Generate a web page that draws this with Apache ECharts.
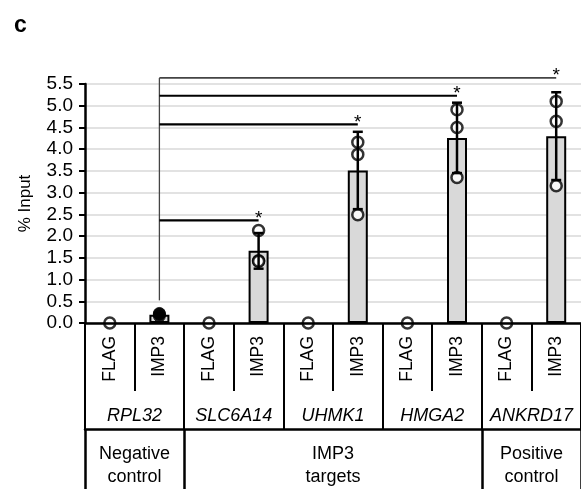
<!DOCTYPE html>
<html>
<head>
<meta charset="utf-8">
<script src="https://cdn.jsdelivr.net/npm/echarts@6/dist/echarts.min.js"></script>
<style>
html,body{margin:0;padding:0;background:#fff;}
#chart{width:581px;height:489px;}
</style>
</head>
<body>
<div id="chart"></div>
<script>
// ---- data ----
const conditions = ['FLAG', 'IMP3'];
const genes = ['RPL32', 'SLC6A14', 'UHMK1', 'HMGA2', 'ANKRD17'];
const groupNames = ['Negative\ncontrol', 'IMP3\ntargets', 'Positive\ncontrol'];
const groupStart = [0, 1, 4];
const groupEnd = [0, 3, 4];
const flagValues = [0, 0, 0, 0, 0];
const imp3Means = [0.19, 1.66, 3.51, 4.26, 4.30];
const imp3SD = [0.03, 0.41, 0.89, 0.81, 1.01];
const imp3Points = [
  [0.22, 0.20, 0.16],
  [2.13, 1.43, 1.42],
  [4.16, 3.88, 2.49],
  [4.91, 4.50, 3.35],
  [5.10, 4.64, 3.16]
];
const bracketRef = 'RPL32';
const bracketTargets = ['SLC6A14', 'UHMK1', 'HMGA2', 'ANKRD17'];
const bracketHeights = [2.36, 4.57, 5.23, 5.64];
const bracketLabels = ['*', '*', '*', '*'];
const bracketBase = 0.52;
const yMin = 0, yMax = 5.5, yStep = 0.5;

// ---- derived ----
const categories = [];
genes.forEach(() => conditions.forEach(c => categories.push(c)));
const idx = (g, c) => g * conditions.length + c;

const barData = categories.map(() => '-');
imp3Means.forEach((v, g) => { barData[idx(g, 1)] = v; });

const flagScatter = flagValues.map((v, g) => [idx(g, 0), v]);
const imp3Scatter = [];
const imp3ScatterFilled = [];
imp3Points.forEach((pts, g) => pts.forEach(v => {
  (g === 0 ? imp3ScatterFilled : imp3Scatter).push([idx(g, 1), v]);
}));
const errData = imp3Means.map((m, g) => [idx(g, 1), m - imp3SD[g], m + imp3SD[g]]);
const refIdx = idx(genes.indexOf(bracketRef), 1);
const bracketData = bracketTargets.map((t, i) => [refIdx, idx(genes.indexOf(t), 1), bracketHeights[i], i === bracketTargets.length - 1 ? 1 : 0]);
const stemData = [[refIdx, bracketBase, Math.max.apply(null, bracketHeights)]];

const FONT = 'Liberation Sans, Arial, Helvetica, sans-serif';
const chart = echarts.init(document.getElementById('chart'), null, {renderer: 'canvas'});

const gridCfg = {left: 85, top: 84, width: 500, height: 241, containLabel: false};

chart.setOption({
  animation: false,
  backgroundColor: '#fff',
  textStyle: {fontFamily: FONT, color: '#000'},
  graphic: [{
    type: 'text', left: 14, top: 14,
    style: {text: 'c', font: 'bold 23px ' + FONT, fill: '#000'}
  }],
  grid: gridCfg,
  xAxis: [
    {
      type: 'category', data: categories, position: 'bottom', boundaryGap: true,
      axisLine: {show: true, lineStyle: {color: '#000', width: 2.5}},
      axisTick: {show: true, interval: 0, length: 68, lineStyle: {color: '#000', width: 2}},
      axisLabel: {interval: 0, rotate: 90, margin: 13, fontSize: 17.5, color: '#000', fontFamily: FONT},
      splitLine: {show: false}, z: 1
    },
    {
      type: 'category', data: genes, position: 'bottom', offset: 0, boundaryGap: true,
      axisLine: {show: false},
      axisTick: {show: true, interval: 0, length: 106, lineStyle: {color: '#000', width: 2}},
      axisLabel: {interval: 0, margin: 84, fontSize: 18, fontStyle: 'italic', color: '#000', fontFamily: FONT},
      splitLine: {show: false}
    },
    {
      type: 'category', data: genes, position: 'bottom', offset: 106, boundaryGap: true,
      axisLine: {show: true, lineStyle: {color: '#000', width: 2.5}},
      axisTick: {show: true, length: 62, lineStyle: {color: '#000', width: 2.5},
        interval: function (i) { return groupStart.indexOf(i) >= 0; }},
      axisLabel: {
        margin: 14, fontSize: 18, lineHeight: 23, color: '#000', fontFamily: FONT,
        interval: function (i) { return groupStart.some((s, k) => (s + groupEnd[k]) / 2 === i); },
        formatter: function (v, i) {
          for (let k = 0; k < groupStart.length; k++) {
            if ((groupStart[k] + groupEnd[k]) / 2 === i) return groupNames[k];
          }
          return '';
        }
      },
      splitLine: {show: false}
    }
  ],
  yAxis: {
    type: 'value', min: yMin, max: yMax, interval: yStep,
    name: '% Input', nameLocation: 'middle', nameRotate: 90, nameGap: 51,
    nameTextStyle: {fontSize: 17, color: '#000', fontFamily: FONT},
    axisLine: {show: true, lineStyle: {color: '#000', width: 2.5}},
    axisTick: {show: true, inside: false, length: 6, lineStyle: {color: '#000', width: 2}},
    axisLabel: {fontSize: 19, margin: 12, color: '#000', fontFamily: FONT,
      formatter: v => v.toFixed(1)},
    splitLine: {show: true, lineStyle: {color: '#d9d9d9', width: 1.5}}
  },
  series: [
    {
      type: 'bar', data: barData, barWidth: 20, z: 2,
      itemStyle: {color: '#d9d9d9', borderColor: '#000', borderWidth: 2}
    },
    {
      type: 'scatter', data: flagScatter, symbol: 'circle', symbolSize: 11, z: 3,
      itemStyle: {color: 'rgba(255,255,255,0)', borderColor: '#000', borderWidth: 2.5}
    },
    {
      type: 'scatter', data: imp3Scatter, symbol: 'circle', symbolSize: 11, z: 3,
      itemStyle: {color: '#fff', borderColor: '#000', borderWidth: 2.5}
    },
    {
      type: 'scatter', data: imp3ScatterFilled, symbol: 'circle', symbolSize: 12, z: 3,
      itemStyle: {color: '#000', borderColor: '#000', borderWidth: 1}
    },
    {
      type: 'custom', z: 4, data: errData, clip: false,
      renderItem: function (params, api) {
        const x = api.value(0);
        const lo = api.coord([x, api.value(1)]);
        const hi = api.coord([x, api.value(2)]);
        const cw = 5;
        const st = {stroke: '#000', lineWidth: 2.5};
        return {type: 'group', children: [
          {type: 'line', shape: {x1: lo[0], y1: lo[1], x2: hi[0], y2: hi[1]}, style: st},
          {type: 'line', shape: {x1: hi[0] - cw, y1: hi[1], x2: hi[0] + cw, y2: hi[1]}, style: st},
          {type: 'line', shape: {x1: lo[0] - cw, y1: lo[1], x2: lo[0] + cw, y2: lo[1]}, style: st}
        ]};
      }
    },
    {
      type: 'custom', z: 4, data: stemData, clip: false,
      renderItem: function (params, api) {
        const a = api.coord([api.value(0), api.value(1)]);
        const b = api.coord([api.value(0), api.value(2)]);
        return {type: 'line', shape: {x1: a[0], y1: a[1], x2: b[0], y2: b[1]},
          style: {stroke: '#444', lineWidth: 1.3}};
      }
    },
    {
      type: 'custom', z: 4, data: bracketData, clip: false,
      renderItem: function (params, api) {
        const y = api.value(2);
        const a = api.coord([api.value(0), y]);
        const b = api.coord([api.value(1), y]);
        const top = api.value(3) === 1;
        return {type: 'group', children: [
          {type: 'line', shape: {x1: a[0], y1: a[1], x2: b[0], y2: b[1]},
            style: top ? {stroke: '#444', lineWidth: 1.6} : {stroke: '#000', lineWidth: 2.2}},
          {type: 'text', x: b[0], y: b[1] - 2,
            style: {text: bracketLabels[params.dataIndex], font: '19px ' + FONT, fill: '#000',
              align: 'center', verticalAlign: 'middle'}}
        ]};
      }
    }
  ]
});
</script>
</body>
</html>
